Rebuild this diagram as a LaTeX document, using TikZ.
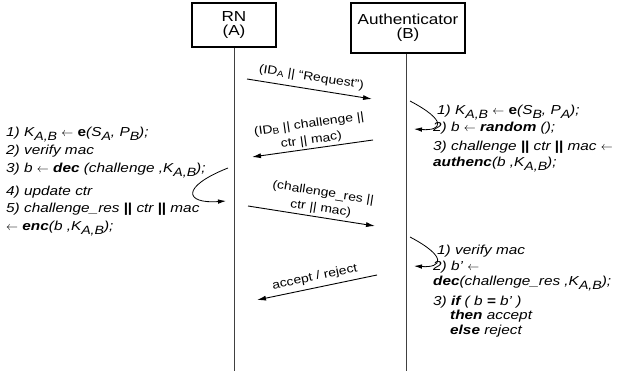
\documentclass[tikz,border=0pt]{standalone}
\usepackage{fontspec}
\setmainfont{Liberation Sans}[FakeStretch=1.18]
\usetikzlibrary{arrows.meta}
\newcommand{\sbk}[1]{\raisebox{-4pt}{\fontsize{12}{12}\selectfont #1}}
\newcommand{\sbl}[1]{\raisebox{-1.5pt}{\fontsize{8.5}{8.5}\selectfont #1}}
\newcommand{\dbar}{{\upshape\bfseries|\kern-0.2pt|}}
\newcommand{\lar}{$\leftarrow$}
\begin{document}
\begin{tikzpicture}[x=1pt,y=-1pt,
  actor/.style={draw,line width=1.1pt,align=center,font=\fontsize{14.5}{14.5}\selectfont,inner sep=0pt},
  life/.style={line width=1pt,draw=black!75},
  msg/.style={line width=0.9pt,-{Latex[length=9pt,width=5pt]}},
  lbl/.style={font=\fontsize{11.8}{16}\selectfont,align=center,sloped,inner sep=0.5pt},
  alg/.style={anchor=base west,inner sep=0pt,font=\fontsize{13}{14}\selectfont\itshape},
  loopar/.style={line width=0.8pt,-{Latex[length=8pt,width=4.5pt]}}
]
\useasboundingbox (0,0) rectangle (638,371);
% actors
\node[actor,minimum width=84pt,minimum height=44pt] (rn) at (234,25) {RN\\(A)};
\node[actor,minimum width=114pt,minimum height=50pt] (au) at (408,28) {Authenticator\\(B)};
\coordinate (rnend) at (234,371);
\coordinate (auend) at (406,371);
\draw[life] (rn.south) -- (rnend);
\draw[life] (au.south -| auend) -- (auend);
% messages
\coordinate (m1s) at (247,79);  \coordinate (m1e) at (372,99);
\coordinate (m2s) at (373,140); \coordinate (m2e) at (252,157);
\coordinate (m3s) at (248,206); \coordinate (m3e) at (375,226);
\coordinate (m4s) at (377,275); \coordinate (m4e) at (257,300);
\draw[msg] (m1s) -- node[lbl,above=5pt] (t1) {(ID\sbl{A} || “Request”)} (m1e);
\draw[msg] (m2s) -- node[lbl,above=1.5pt] (t2) {(ID\sbl{B} || challenge ||\\ctr || mac)} (m2e);
\draw[msg] (m3s) -- node[lbl,above=2pt,xshift=8pt] (t3) {(challenge\_res ||\\ctr || mac)} (m3e);
\draw[msg] (m4s) -- node[lbl,above=4pt] (t4) {accept / reject} (m4e);
% left algorithm
\node[alg] (l1) at (6,137) {1) K\sbk{A,B} \lar{} {\upshape\bfseries e}(S\sbk{A}, P\sbk{B});};
\node[alg] (l2) at (6,155) {2) verify mac};
\node[alg] (l3) at (6,173) {3) b \lar{} \textbf{dec} (challenge ,K\sbk{A,B});};
\node[alg] (l4) at (6,196) {4) update ctr};
\node[alg] (l5) at (6,213) {5) challenge\_res \dbar{} ctr \dbar{} mac};
\node[alg] (l6) at (6,231) {\lar{} \textbf{enc}(b ,K\sbk{A,B});};
% right algorithm 1
\node[alg] (r1) at (437,115) {1) K\sbk{A,B} \lar{} {\upshape\bfseries e}(S\sbk{B}, P\sbk{A});};
\node[alg] (r2) at (433,132) {2) b \lar{} \textbf{random} ();};
\node[alg] (r3) at (433,151) {3) challenge \dbar{} ctr \dbar{} mac \lar};
\node[alg] (r4) at (433,167) {\textbf{authenc}(b ,K\sbk{A,B});};
% right algorithm 2
\node[alg] (s1) at (437,255) {1) verify mac};
\node[alg] (s2) at (433,271) {2) b' \lar};
\node[alg] (s3) at (433,286) {\textbf{dec}(challenge\_res ,K\sbk{A,B});};
\node[alg] (s4) at (433,306) {3) \textbf{if} ( b \textbf{=} b' )};
\node[alg] (s5) at (450,320) {\textbf{then} accept};
\node[alg] (s6) at (450,335) {\textbf{else} reject};
% processing loops
\coordinate (c1s) at (228,168); \coordinate (c1e) at (226,201);
\draw[loopar] (c1s) .. controls (180,187) and (185,204) .. (c1e);
\coordinate (c2s) at (410,101); \coordinate (c2e) at (414,129);
\draw[loopar] (c2s) .. controls (448,121) and (442,131) .. (c2e);
\coordinate (c3s) at (410,237); \coordinate (c3e) at (414,266);
\draw[loopar] (c3s) .. controls (448,257) and (442,268) .. (c3e);
\end{tikzpicture}
\end{document}
